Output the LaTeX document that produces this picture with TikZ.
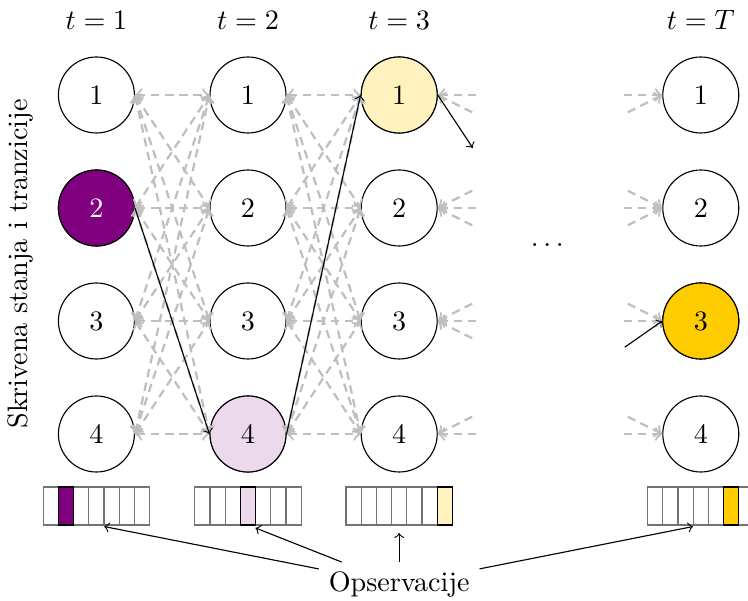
\documentclass[tikz,border=0pt]{standalone}
\usepackage{amsmath}
\usepackage{tikz}
\usetikzlibrary{positioning,calc,arrows}
\definecolor{gold}{RGB}{255,204,0}
\definecolor{vpurple}{RGB}{128,0,128}

\begin{document}
\begin{tikzpicture}[
    node distance=2mm,
    state/.style={circle, draw, minimum size=0.95cm, inner sep=0pt},
    trans/.style={black!25, thick, dash pattern=on 3pt off 2pt},
    vpath/.style={->},
    cell/.style={rectangle, draw=black!55, minimum width=0.19cm, minimum height=0.475cm, inner sep=0pt, outer sep=0pt}
  ]
    \useasboundingbox (0,0) rectangle (9.35,-7.5125);

    % trellis of hidden states
    \foreach \c/\x in {1/1.205, 2/3.1, 3/4.99, T/8.76} {
      \node (t\c) at (\x,-0.25) {$t=\c$};
      \foreach \r in {1,...,4}
        \node (s\c-\r) [state] at (\x,{-1.1875-(\r-1)*1.4125}) {\r};
    }
    \node (s1-2) [state, fill=vpurple, text=white] at (s1-2) {2};
    \node (s2-4) [state, fill=vpurple!15] at (s2-4) {4};
    \node (s3-1) [state, fill=gold!25] at (s3-1) {1};
    \node (sT-3) [state, fill=gold] at (sT-3) {3};

    \node (dots) at (6.87,-3.06) {$\dots$};
    \node (hidden) [rotate=90] at (0.25,-3.3) {Skrivena stanja i tranzicije};

    % transitions
    \foreach \a/\b in {1/2, 2/3}
      \foreach \i in {1,...,4}
        \foreach \j in {1,...,4}
          \draw[trans, <->] (s\a-\i.east) -- (s\b-\j.west);

    \foreach \i/\j in {1/1,1/2,2/1,2/2,2/3,3/2,3/3,3/4,4/3,4/4}
      \draw[trans, <-] (s3-\i.east) -- ($(s3-\i.east)!0.5cm!(sT-\j.west)$);
    \foreach \j/\i in {1/1,1/2,2/1,2/2,2/3,3/2,3/3,4/3,4/4}
      \draw[trans, <-] (sT-\j.west) -- ($(sT-\j.west)!0.5cm!(s3-\i.east)$);

    % most likely path
    \coordinate (v3) at (5.91,-1.85);
    \coordinate (vT) at (7.81,-4.34);
    \draw[vpath] (s1-2.east) -- (s2-4.west);
    \draw[vpath] (s2-4.east) -- (s3-1.west);
    \draw[vpath] (s3-1.east) -- (v3);
    \draw[vpath] (vT) -- (sT-3.west);

    % observations
    \foreach \c/\x/\h/\col in {1/1.205/2/vpurple, 2/3.1/4/vpurple!15, 3/4.99/7/gold!25, T/8.76/6/gold} {
      \foreach \k in {1,...,7}
        \node (o\c-\k) [cell] at ({\x+(\k-4)*0.19},-6.325) {};
      \node (h\c) [cell, draw=black, fill=\col] at (o\c-\h) {};
    }

    \node (obs) at (4.99,-7.31) {Opservacije};
    \draw[->, shorten >=1mm] (obs) -- (o1-4.south);
    \draw[->, shorten >=1mm] (obs) -- (o2-4.south);
    \draw[->, shorten >=1mm] (obs) -- (o3-4.south);
    \draw[->, shorten >=1mm] (obs) -- (oT-4.south);
\end{tikzpicture}
\end{document}
